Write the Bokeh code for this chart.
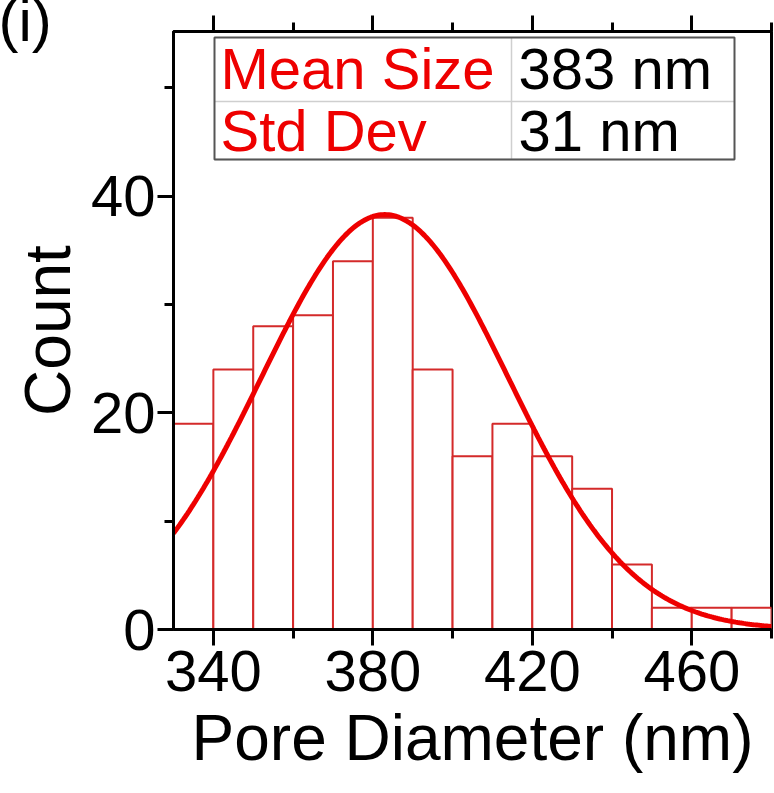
import numpy as np
from bokeh.plotting import figure
from bokeh.models import (Range1d, LinearAxis, FixedTicker, Label, ColumnDataSource,
                          CustomLabelingPolicy)
from bokeh.embed import file_html
from bokeh.resources import INLINE

# ---- data ----
bin_edges = [330, 340, 350, 360, 370, 380, 390, 400, 410, 420, 430, 440, 450, 460, 470, 480]
counts = [19, 24, 28, 29, 34, 38, 24, 16, 19, 16, 13, 6, 2, 2, 2]
mean_size = 383.0      # nm (fit)
std_dev = 31.0         # nm (fit)
fit_peak = 38.3        # peak height of the fitted normal curve
x_ticks = [340, 380, 420, 460]
x_minor = [360, 400, 440, 480]
y_ticks = [0, 20, 40]
y_minor = [10, 30, 50]
table_names = ["Mean Size", "Std Dev"]
table_values = ["383 nm", "31 nm"]
panel_label = "(i)"

FONT = "Liberation Sans"
X0, X1 = 330, 480
Y0, Y1 = 0, 55.2

# frame geometry in screen pixels (used to place decorations)
FL, FT, FW, FH = 173, 31, 598, 598


def px_x(px):
    return X0 + (px - FL) / FW * (X1 - X0)


def px_y(py):
    return Y0 + (FT + FH - py) / FH * (Y1 - Y0)


p = figure(width=774, height=793, x_range=Range1d(X0, X1), y_range=Range1d(Y0, Y1),
           output_backend="svg", toolbar_location=None,
           x_axis_location=None, y_axis_location=None,
           min_border_left=FL, min_border_right=774 - FL - FW,
           min_border_top=FT, min_border_bottom=793 - FT - FH)
p.xgrid.visible = False
p.ygrid.visible = False
p.outline_line_color = "black"
p.outline_line_width = 3
p.background_fill_color = "white"
p.border_fill_color = "white"

# panel label "(i)" drawn as the plot title, pulled into the corner
p.title.text = panel_label
p.title.text_font = FONT
p.title.text_font_size = "60px"
p.title.text_font_style = "normal"
p.title.text_color = "black"
p.title.align = "left"
p.title.vertical_align = "bottom"
p.title.offset = -175
p.title.standoff = -84


def style_axis(ax):
    ax.axis_line_width = 3
    ax.axis_line_color = "black"
    ax.major_tick_line_width = 3
    ax.minor_tick_line_width = 3
    ax.major_tick_out = 16
    ax.major_tick_in = 0
    ax.minor_tick_out = 9
    ax.minor_tick_in = 0
    ax.major_label_text_font = FONT
    ax.major_label_text_font_size = "58px"
    ax.major_label_text_color = "black"
    ax.axis_label_text_font = FONT
    ax.axis_label_text_font_size = "64px"
    ax.axis_label_text_font_style = "normal"
    ax.axis_label_text_color = "black"


xb = LinearAxis(ticker=FixedTicker(ticks=x_ticks, minor_ticks=x_minor),
                axis_label="Pore Diameter (nm)")
style_axis(xb)
xb.major_label_standoff = 5
xb.axis_label_standoff = 8
p.add_layout(xb, "below")

xt = LinearAxis(ticker=FixedTicker(ticks=x_ticks, minor_ticks=x_minor),
                major_label_policy=CustomLabelingPolicy(code="return []"))
style_axis(xt)
xt.major_label_text_font_size = "1px"
xt.major_label_standoff = 0
p.add_layout(xt, "above")

yl = LinearAxis(ticker=FixedTicker(ticks=y_ticks, minor_ticks=y_minor), axis_label="Count")
style_axis(yl)
yl.major_label_standoff = 2
yl.axis_label_standoff = 4
p.add_layout(yl, "left")

# ---- histogram ----
src = ColumnDataSource(dict(left=bin_edges[:-1], right=bin_edges[1:], top=counts,
                            bottom=[0] * len(counts)))
p.quad(left="left", right="right", top="top", bottom="bottom", source=src,
       fill_color="white", line_color="#d42a2a", line_width=2)

# ---- normal fit curve from the stated mean / std ----
xs = np.linspace(X0, X1, 301)
ys = fit_peak * np.exp(-0.5 * ((xs - mean_size) / std_dev) ** 2)
p.line(xs, ys, line_color="#ee0000", line_width=5)

# ---- statistics table ----
tl, tr, tt, tb = px_x(214), px_x(734), px_y(37), px_y(159)
tmid_y, tmid_x = px_y(101), px_x(511)
p.segment(x0=[tl, tl], y0=[tmid_y, tb], x1=[tr, tr], y1=[tmid_y, tb], line_color="#cfcfcf", line_width=1.5)
p.segment(x0=[tmid_x], y0=[tb], x1=[tmid_x], y1=[tt], line_color="#cfcfcf", line_width=1.5)
p.quad(left=[tl], right=[tr], top=[tt], bottom=[tb], fill_color=None,
       line_color="#555555", line_width=2)

row_pos = [px_y(68), px_y(130)]
for i in range(2):
    p.add_layout(Label(x=px_x(220), y=row_pos[i], text=table_names[i], text_font=FONT,
                       text_font_size="58px", text_color="#ee0000",
                       text_baseline="alphabetic", text_align="left"))
    p.add_layout(Label(x=px_x(518), y=row_pos[i], text=table_values[i], text_font=FONT,
                       text_font_size="58px", text_color="black",
                       text_baseline="alphabetic", text_align="left"))

open("out.html", "w").write(file_html(p, INLINE))
